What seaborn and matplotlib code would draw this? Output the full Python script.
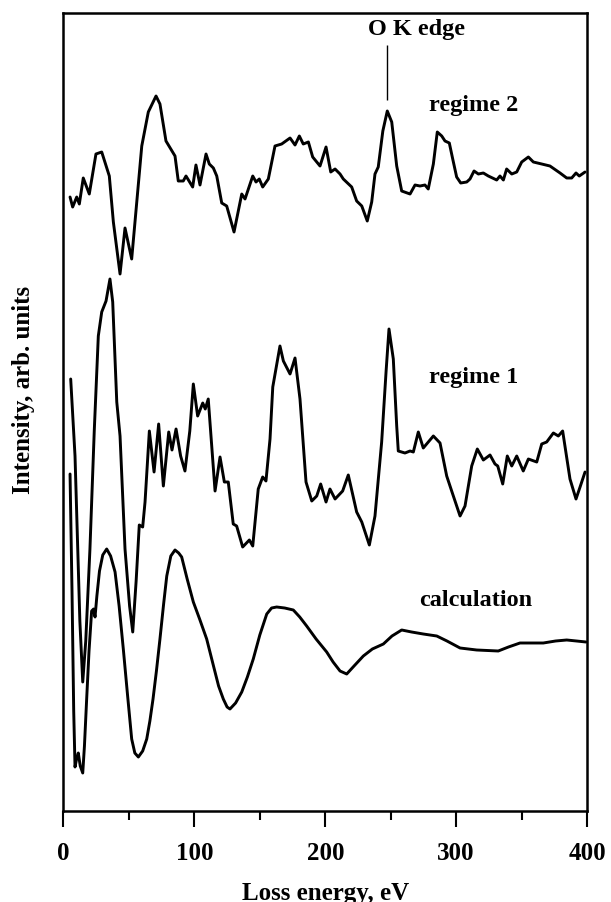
import numpy as np
import pandas as pd
import matplotlib
matplotlib.use("Agg")
import matplotlib.pyplot as plt
import seaborn as sns

# ---------------- data ----------------
reg2_E = [5.0, 7.0, 10.1, 12.1, 15.1, 19.7, 24.8, 29.2, 35.0, 38.1, 43.2, 47.0, 52.1, 59.8, 64.8,
          70.7, 73.7, 78.3, 85.2, 87.7, 91.5, 93.6, 98.7, 101.2, 104.3, 108.9, 111.4, 114.5, 117.1,
          120.9, 124.7, 130.3, 136.2, 138.7, 144.6, 147.1, 149.6, 152.2, 156.5, 161.6, 166.7, 173.1,
          176.9, 180.2, 183.2, 187.1, 190.4, 196.0, 200.6, 204.2, 207.5, 211.3, 213.8, 220.2, 224.0,
          227.9, 232.1, 235.5, 238.0, 240.5, 244.0, 247.4, 250.8, 254.6, 258.4, 264.8, 268.6, 272.4,
          276.2, 278.7, 282.6, 285.6, 289.0, 291.5, 294.8, 297.4, 300.4, 303.5, 308.1, 310.6, 313.7,
          317.0, 320.8, 324.6, 331.0, 333.5, 336.1, 338.6, 342.5, 346.3, 350.1, 355.2, 359.0, 365.4,
          371.7, 379.4, 384.5, 388.3, 391.6, 394.1, 398.5]
reg2_I = [6.14, 6.04, 6.14, 6.07, 6.33, 6.17, 6.57, 6.59, 6.35, 5.89, 5.37, 5.83, 5.52, 6.65, 6.99,
          7.15, 7.07, 6.70, 6.55, 6.30, 6.30, 6.35, 6.24, 6.46, 6.26, 6.57, 6.47, 6.43, 6.35,
          6.08, 6.05, 5.79, 6.17, 6.12, 6.35, 6.29, 6.32, 6.24, 6.32, 6.65, 6.67, 6.73,
          6.66, 6.75, 6.67, 6.69, 6.54, 6.45, 6.64, 6.39, 6.42, 6.37, 6.32, 6.24, 6.10,
          6.05, 5.90, 6.09, 6.37, 6.44, 6.80, 7.00, 6.89, 6.45, 6.20, 6.17, 6.26, 6.25,
          6.26, 6.22, 6.47, 6.79, 6.75, 6.70, 6.68, 6.52, 6.34, 6.28, 6.29, 6.32, 6.40,
          6.37, 6.38, 6.35, 6.31, 6.35, 6.31, 6.42, 6.37, 6.39, 6.49, 6.54, 6.49, 6.47,
          6.45, 6.38, 6.33, 6.33, 6.38, 6.35, 6.39]

reg1_E = [5.5, 8.8, 12.5, 14.7, 17.0, 20.2, 23.5, 26.6, 29.2, 32.5, 35.5, 37.6, 40.7, 43.2, 47.0,
          50.5, 52.9, 55.5, 57.9, 60.5, 62.3, 65.6, 69.2, 72.7, 76.3, 80.4, 82.9, 86.0, 89.5, 92.8,
          96.5, 99.2, 102.5, 106.4, 108.3, 110.6, 115.8, 119.6, 122.9, 125.9, 129.7, 132.3, 136.9,
          142.0, 144.6, 148.8, 152.2, 154.7, 157.8, 159.9, 165.4, 168.0, 173.1, 176.9, 180.7, 185.3,
          189.7, 193.5, 196.5, 200.6, 203.6, 207.5, 213.3, 217.6, 224.0, 227.9, 233.7, 238.0, 243.1,
          246.5, 248.7, 252.0, 254.6, 255.8, 260.9, 264.8, 267.3, 271.1, 274.9, 282.6, 287.7, 292.8,
          296.6, 303.0, 306.8, 311.9, 316.2, 320.8, 325.9, 329.7, 331.8, 335.6, 339.1, 342.5, 346.3,
          351.3, 355.2, 361.6, 365.4, 369.2, 374.3, 378.1, 381.4, 387.0, 391.6, 394.7, 398.5]
reg1_I = [4.32, 3.55, 1.90, 1.29, 1.70, 2.62, 3.80, 4.75, 4.99, 5.10, 5.32, 5.09, 4.09, 3.75, 2.62,
          2.05, 1.79, 2.30, 2.86, 2.84, 3.09, 3.80, 3.39, 3.87, 3.25, 3.79, 3.61, 3.82, 3.55, 3.40,
          3.80, 4.27, 3.95, 4.08, 4.02, 4.12, 3.20, 3.54, 3.29, 3.29, 2.87, 2.85, 2.64,
          2.71, 2.65, 3.22, 3.34, 3.30, 3.72, 4.24, 4.65, 4.50, 4.37, 4.53, 4.12, 3.29,
          3.10, 3.15, 3.27, 3.09, 3.22, 3.12, 3.20, 3.36, 2.99, 2.89, 2.66, 2.95, 3.69,
          4.40, 4.82, 4.52, 3.85, 3.60, 3.58, 3.60, 3.59, 3.79, 3.63, 3.75, 3.68, 3.35,
          3.20, 2.95, 3.05, 3.45, 3.62, 3.51, 3.56, 3.47, 3.45, 3.27, 3.55, 3.45, 3.55,
          3.40, 3.52, 3.49, 3.67, 3.69, 3.78, 3.75, 3.80, 3.32, 3.12, 3.24, 3.39]

calc_E = [5.0, 6.5, 7.8, 8.8, 10.0, 11.3, 12.8, 14.7, 16.0, 17.7, 19.5, 21.5, 23.0, 24.1, 25.5,
          27.5, 30.0, 33.0, 36.0, 39.4, 42.5, 45.7, 49.0, 52.1, 54.5, 57.2, 60.5, 63.6, 66.0, 68.4,
          71.0, 73.7, 76.5, 78.9, 82.0, 85.2, 88.0, 90.3, 94.5, 99.2, 104.0, 109.4, 115.0, 118.5,
          122.1, 125.0, 127.2, 131.5, 136.2, 140.5, 145.0, 150.0, 155.3, 159.0, 162.9, 169.0, 175.6,
          180.5, 185.8, 193.0, 201.1, 206.0, 211.3, 216.4, 222.0, 229.1, 236.0, 244.4, 251.0, 258.4,
          266.0, 274.9, 285.2, 293.0, 303.0, 315.7, 332.2, 340.0, 348.8, 366.6, 376.0, 384.5, 392.0,
          399.2]
calc_I = [3.37, 2.20, 1.00, 0.44, 0.52, 0.58, 0.45, 0.38, 0.65, 1.12, 1.60, 2.00, 2.02, 1.94, 2.15,
          2.40, 2.56, 2.62, 2.55, 2.39, 2.05, 1.62, 1.15, 0.72, 0.58, 0.54, 0.60, 0.72, 0.90, 1.12,
          1.40, 1.72, 2.07, 2.35, 2.55, 2.61, 2.58, 2.54, 2.32, 2.09, 1.92, 1.72, 1.43, 1.25,
          1.12, 1.04, 1.02, 1.08, 1.19, 1.34, 1.52, 1.76, 1.97, 2.03, 2.04, 2.03, 2.01,
          1.94, 1.85, 1.72, 1.59, 1.49, 1.40, 1.37, 1.45, 1.55, 1.62, 1.67, 1.75, 1.81,
          1.79, 1.77, 1.75, 1.70, 1.63, 1.61, 1.60, 1.64, 1.68, 1.68, 1.70, 1.71, 1.70,
          1.69]

labels = ["regime 2", "regime 1", "calculation"]
x_ticks = [0, 100, 200, 300, 400]
edge_energy = 247.5

# ---------------- figure ----------------
sns.set_style("ticks")
plt.rcParams["font.family"] = ["Liberation Serif", "DejaVu Serif"]
plt.rcParams["font.weight"] = "bold"
plt.rcParams["text.color"] = "black"
plt.rcParams["axes.labelcolor"] = "black"
plt.rcParams["xtick.color"] = "black"
plt.rcParams["ytick.color"] = "black"

fig = plt.figure(figsize=(6.11, 9.03), dpi=100)
ax = fig.add_axes([63.5 / 611, 1 - 812 / 903, (587 - 63.5) / 611, (812 - 14) / 903])

frames = [
    pd.DataFrame({"E": reg2_E, "I": reg2_I, "s": labels[0]}),
    pd.DataFrame({"E": reg1_E, "I": reg1_I, "s": labels[1]}),
    pd.DataFrame({"E": calc_E, "I": calc_I, "s": labels[2]}),
]
for df in frames:
    sns.lineplot(data=df, x="E", y="I", ax=ax, color="black", lw=2.1, sort=False,
                 estimator=None, legend=False)
for ln in ax.lines:
    ln.set_solid_joinstyle("round")

ax.set_xlim(0, 400)
ax.set_ylim(0, 7.98)
ax.set_xticks(x_ticks)
ax.set_xticklabels([str(t) for t in x_ticks], fontsize=18, fontweight="bold")
ax.set_xticks([50, 150, 250, 350], minor=True)
ax.tick_params(axis="x", which="major", direction="out", length=11.5, width=1.5, pad=10)
ax.tick_params(axis="x", which="minor", direction="out", length=6.5, width=1.5)
ax.set_yticks([])
for sp in ax.spines.values():
    sp.set_linewidth(1.8)
    sp.set_color("black")
ax.set_ylabel("")
ax.set_xlabel("Loss energy, eV", fontsize=18, fontweight="bold", labelpad=12)

fig.text(24 / 611, 1 - 390 / 903, "Intensity, arb. units", rotation=90, ha="center",
         va="center", fontsize=18, fontweight="bold")

# annotations
ax.text(313.7, 7.06, labels[0], ha="center", va="center", fontsize=17.5, fontweight="bold")
ax.text(313.7, 4.34, labels[1], ha="center", va="center", fontsize=17.5, fontweight="bold")
ax.text(315.2, 2.12, labels[2], ha="center", va="center", fontsize=17.5, fontweight="bold")
ax.vlines(edge_energy, 7.11, 7.66, color="black", lw=1.0)
ax.text(270.0, 7.82, "O K edge", ha="center", va="center", fontsize=17.5, fontweight="bold")

fig.savefig("out.png", dpi=100)
